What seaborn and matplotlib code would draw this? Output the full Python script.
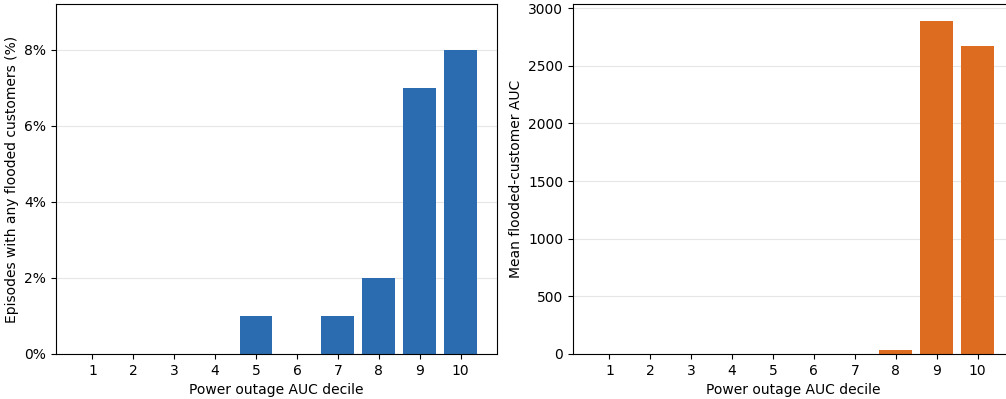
import numpy as np
import pandas as pd
import seaborn as sns
import matplotlib.pyplot as plt
from matplotlib.ticker import PercentFormatter

deciles = ['1', '2', '3', '4', '5', '6', '7', '8', '9', '10']
pct_flooded = [0, 0, 0, 0, 1, 0, 1, 2, 7, 8]
mean_auc = [0, 0, 0, 0, 0, 0, 0, 35, 2890, 2674]

blue = '#2b6cb0'
orange = '#dd6b20'

fig = plt.figure(figsize=(10.06, 3.99), dpi=100)
ax1 = fig.add_axes([0.0557, 0.1128, 0.4383, 0.877])
ax2 = fig.add_axes([0.5696, 0.1128, 0.4383, 0.877])

sns.barplot(x=deciles, y=pct_flooded, color=blue, saturation=1, width=0.8, ax=ax1)
ax1.set_xlim(-0.89, 9.89)
ax1.set_ylim(0, max(pct_flooded) * 1.15)
ax1.yaxis.set_major_formatter(PercentFormatter(decimals=0))
ax1.set_xlabel('Power outage AUC decile')
ax1.set_ylabel('Episodes with any flooded customers (%)')

sns.barplot(x=deciles, y=mean_auc, color=orange, saturation=1, width=0.8, ax=ax2)
ax2.set_xlim(-0.89, 9.89)
ax2.set_ylim(0, max(mean_auc) * 1.05)
ax2.set_xlabel('Power outage AUC decile')
ax2.set_ylabel('Mean flooded-customer AUC')

for ax in (ax1, ax2):
    ax.grid(axis='y', color='#e6e6e6', linewidth=0.8)
    ax.set_axisbelow(True)

fig.savefig('out.png', dpi=100)
